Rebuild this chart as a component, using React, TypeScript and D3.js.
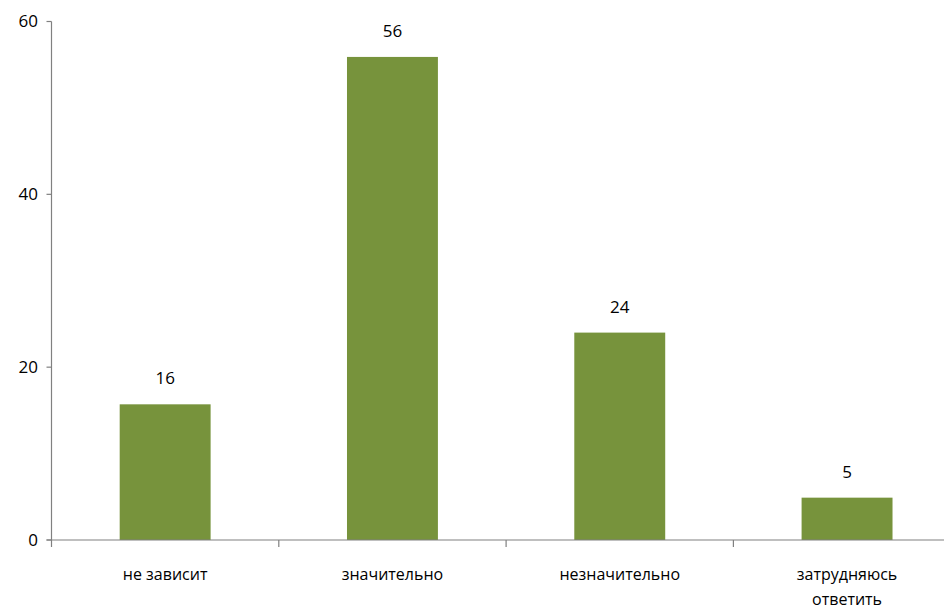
import React from "react";
import * as d3 from "d3";

const categories = ["не зависит", "значительно", "незначительно", "затрудняюсь ответить"];
const values = [15.7, 55.9, 24.0, 4.9];
const yTicks = [0, 20, 40, 60];

const W = 944;
const H = 609;
const FONT = "'Open Sans', 'Noto Sans', sans-serif";

export default function App() {
  const x0 = 51.5;
  const step = 227.3;
  const x = d3
    .scaleBand<string>()
    .domain(categories)
    .range([x0, x0 + step * categories.length])
    .paddingInner(0.6)
    .paddingOuter(0.3);
  const y = d3.scaleLinear().domain([0, 60]).range([540, 21.5]);
  const fmt = d3.format(".0f");
  const boundaries = d3.range(categories.length + 1).map((i) => x0 + i * step);

  return (
    <>
      <style>{`body{margin:0}`}</style>
      <svg width={W} height={H} style={{ display: "block", fontFamily: FONT, fontWeight: 500 }}>
        {categories.map((c, i) => (
          <rect
            key={c}
            x={x(c)}
            y={y(values[i])}
            width={x.bandwidth()}
            height={y(0) - y(values[i])}
            fill="#77933C"
          />
        ))}
        {/* y axis */}
        <line x1={x0} x2={x0} y1={y(60)} y2={y(0)} stroke="#808080" strokeWidth={1.2} />
        {yTicks.map((t) => (
          <g key={t}>
            <line x1={x0 - 5} x2={x0} y1={y(t)} y2={y(t)} stroke="#808080" strokeWidth={1.2} />
            <text x={38} y={y(t)} dy="0.35em" textAnchor="end" fontSize={17} fill="#000">
              {t}
            </text>
          </g>
        ))}
        {/* x axis */}
        <line x1={x0 - 5} x2={W} y1={y(0)} y2={y(0)} stroke="#808080" strokeWidth={1.2} />
        {boundaries.map((b, i) => (
          <line key={i} x1={b} x2={b} y1={y(0)} y2={y(0) + 7} stroke="#808080" strokeWidth={1.2} />
        ))}
        {categories.map((c) => {
          const cx = (x(c) as number) + x.bandwidth() / 2;
          const words = c === "затрудняюсь ответить" ? ["затрудняюсь", "ответить"] : [c];
          return (
            <text key={c} x={cx} y={580} textAnchor="middle" fontSize={16} fill="#000">
              {words.map((w, k) => (
                <tspan key={k} x={cx} dy={k === 0 ? 0 : 25}>
                  {w}
                </tspan>
              ))}
            </text>
          );
        })}
        {categories.map((c, i) => (
          <text
            key={c}
            x={(x(c) as number) + x.bandwidth() / 2}
            y={y(values[i]) - 20}
            textAnchor="middle"
            fontSize={17}
            fill="#000"
          >
            {fmt(values[i])}
          </text>
        ))}
      </svg>
    </>
  );
}
